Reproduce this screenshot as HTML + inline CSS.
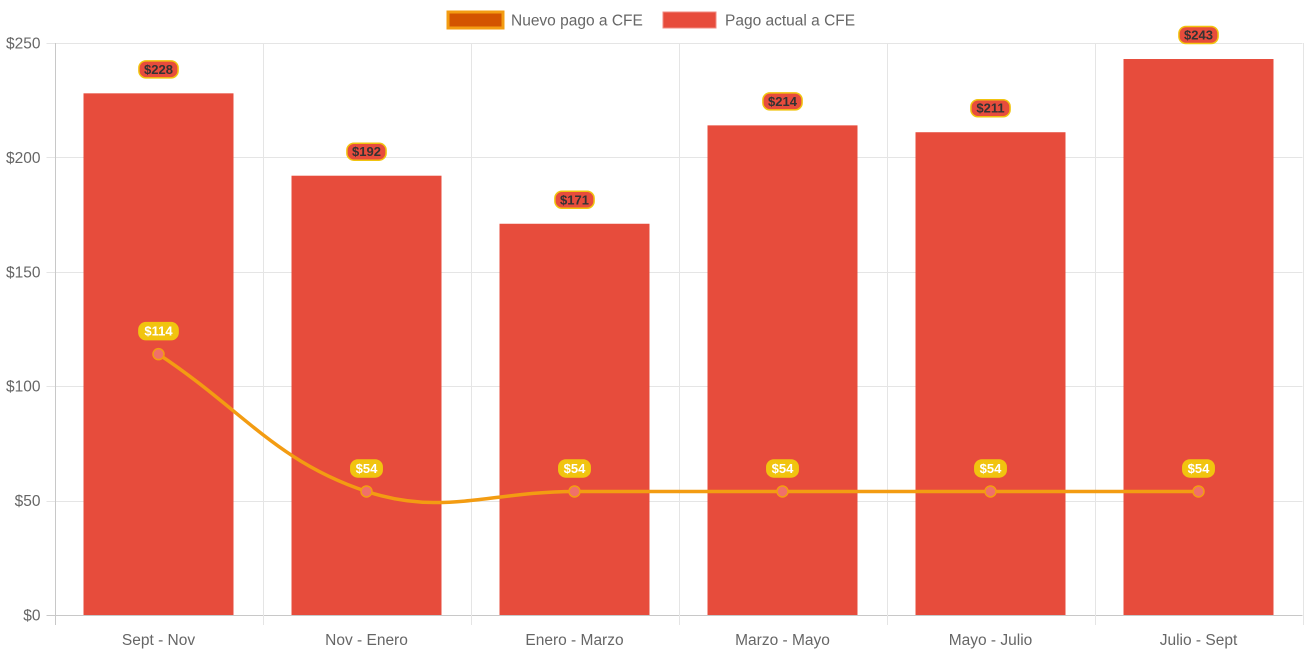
<!DOCTYPE html>
<html><head><meta charset="utf-8"><style>
body{margin:0;background:#fff;font-family:"Liberation Sans",Arial,sans-serif}
svg text{font-family:"Liberation Sans",Arial,sans-serif}
</style></head><body>
<svg id="c" width="1310" height="654"></svg>
<script>
const categories=["Sept - Nov","Nov - Enero","Enero - Marzo","Marzo - Mayo","Mayo - Julio","Julio - Sept"];
const actualValues=[228,192,171,214,211,243];
const newValues=[114,54,54,54,54,54];
const yTicks=[0,50,100,150,200,250];
const seriesNames=["Nuevo pago a CFE","Pago actual a CFE"];
const NS="http://www.w3.org/2000/svg";
const svg=document.getElementById('c');
const L=54.5,R=1302.5,T=43,B=615,YMAX=250;
const bw=(R-L)/categories.length;
const y=v=>B-(v/YMAX)*(B-T);
const xc=i=>L+bw*(i+0.5);
function el(t,a,p){const e=document.createElementNS(NS,t);for(const k in a)e.setAttribute(k,a[k]);(p||svg).appendChild(e);return e;}
yTicks.forEach(v=>{
 const g=el('line',{x1:L-8,x2:R,y1:Math.round(y(v))+0.5,y2:Math.round(y(v))+0.5,stroke:v===0?'#c8c8c8':'#e5e5e5'});
 
 
 const t=el('text',{x:L-14,y:y(v)+5.5,'text-anchor':'end','font-size':15.5,fill:'#666'});t.textContent='$'+v;
 
 
});
for(let i=0;i<=categories.length;i++){
 const x=Math.round(L+bw*i)+0.5;
 const g=el('line',{x1:x,x2:x,y1:T,y2:B+10,stroke:i===0?'#c8c8c8':'#e5e5e5'});
 
 
}
categories.forEach((c,i)=>{
 const t=el('text',{x:xc(i),y:645,'text-anchor':'middle','font-size':15.5,fill:'#666'});t.textContent=c;
 
 
});
actualValues.forEach((v,i)=>{
 const b=el('rect',{x:xc(i)-75,y:y(v),width:150,height:B-y(v),fill:'#e74c3c'});
 
 
});
const pts=newValues.map((v,i)=>[xc(i),y(v)]);
let d='M'+pts[0][0]+','+pts[0][1];
const cps=pts.map((p,i)=>{
 const pr=pts[Math.max(0,i-1)],nx=pts[Math.min(pts.length-1,i+1)];
 const d01=Math.hypot(p[0]-pr[0],p[1]-pr[1]),d12=Math.hypot(nx[0]-p[0],nx[1]-p[1]);
 let fa=d01/(d01+d12)||0,fb=d12/(d01+d12)||0;const t=0.4;fa*=t;fb*=t;
 return {p:[p[0]-fa*(nx[0]-pr[0]),p[1]-fa*(nx[1]-pr[1])],n:[p[0]+fb*(nx[0]-pr[0]),p[1]+fb*(nx[1]-pr[1])]};
});
for(let i=1;i<pts.length;i++){d+=` C${cps[i-1].n[0]},${cps[i-1].n[1]} ${cps[i].p[0]},${cps[i].p[1]} ${pts[i][0]},${pts[i][1]}`;}
const ln=el('path',{d,fill:'none',stroke:'#f39c12','stroke-width':3.5});


pts.forEach(p=>{
 const c=el('circle',{cx:p[0],cy:p[1],r:5.5,fill:'#f0706a',stroke:'#f39c12','stroke-width':1.5});
 
 
});
function label(x,cy,txt,bg,border,col,name){
 const w=txt.length*7.8+8;
 const r=el('rect',{x:x-w/2,y:cy-8.5,width:w,height:17,rx:7,fill:bg,stroke:border,'stroke-width':1.5});
 
 
 const t=el('text',{x:x,y:cy+4.5,'text-anchor':'middle','font-size':13,'font-weight':'bold',fill:col});t.textContent=txt;
 
 
}
actualValues.forEach((v,i)=>label(xc(i),y(v)-24,'$'+v,'#e74c3c','#f1c40f','#333','bar-value-label'));
newValues.forEach((v,i)=>label(xc(i),y(v)-23,'$'+v,'#f1c40f','#f1c40f','#fff','line-value-label'));
const lg=el('g',{});


const s1=el('rect',{x:448,y:12,width:55,height:16,fill:'#d35400',stroke:'#f39c12','stroke-width':3},lg);


const t1=el('text',{x:511,y:25.5,'font-size':15.5,fill:'#666'},lg);t1.textContent=seriesNames[0];


const s2=el('rect',{x:663,y:12,width:53,height:16,fill:'#e74c3c',stroke:'#f08a80','stroke-width':1},lg);


const t2=el('text',{x:725,y:25.5,'font-size':15.5,fill:'#666'},lg);t2.textContent=seriesNames[1];


</script>
</body></html>
